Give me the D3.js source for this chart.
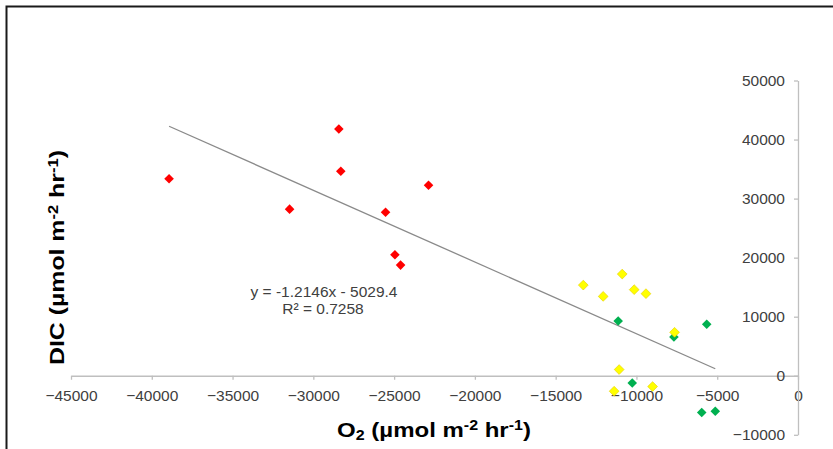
<!DOCTYPE html>
<html>
<head>
<meta charset="utf-8">
<script src="https://cdn.jsdelivr.net/npm/d3@7"></script>
<style>
  html, body { margin: 0; padding: 0; background: #fff; }
  svg { display: block; font-family: "Liberation Sans", Arial, sans-serif; }
</style>
</head>
<body>
<svg id="chart" width="833" height="449"></svg>
<script>
// ---- data ----
const redX    = [-38930, -28420, -28300, -31470, -22870, -25530, -24950, -24600];
const redY    = [ 33350,  41800,  34630,  28210,  32270,  27700,  20500,  18740];
const greenX  = [-11130, -7680, -5650, -10260, -5960, -5120];
const greenY  = [  9270,  6560,  8710,  -1220, -6220, -6000];
const yellowX = [-13290, -12060, -10880, -10140, -9410, -7640, -11070, -11380, -9000];
const yellowY = [ 15350,  13440,  17220,  14580, 13900,  7360,   1050,  -2620, -1830];
const xTicks  = [-45000, -40000, -35000, -30000, -25000, -20000, -15000, -10000, -5000, 0];
const yTicks  = [-10000, 0, 10000, 20000, 30000, 40000, 50000];
const slope = -1.2146, intercept = -5029.4;
const eqLabel = "y = -1.2146x - 5029.4";
const r2Label = "R² = 0.7258";

const svg = d3.select("#chart");

// frame
svg.append("rect").attr("x", 6.5).attr("y", 6.5).attr("width", 900).attr("height", 500)
  .attr("fill", "none").attr("stroke", "#1a1a1a").attr("stroke-width", 2);

const x = d3.scaleLinear().domain([-45000, 0]).range([71, 798]);
const y = d3.scaleLinear().domain([-10000, 50000]).range([434.8, 80.5]);

const axisColor = "#bfbfbf", textColor = "#404040";

// x axis at y=0
const gx = svg.append("g").attr("transform", `translate(0,${y(0)})`)
  .call(d3.axisBottom(x).tickValues(xTicks).tickSize(4).tickSizeOuter(0).tickPadding(10).tickFormat(d3.format("d")));
// y axis at x=0
const gy = svg.append("g").attr("transform", `translate(${x(0)},0)`)
  .call(d3.axisLeft(y).tickValues(yTicks).tickSize(4).tickSizeOuter(0).tickPadding(9).tickFormat(d3.format("d")));
[gx, gy].forEach(g => {
  g.select(".domain").attr("stroke", axisColor).attr("stroke-width", 1.3);
  g.selectAll(".tick line").attr("stroke", axisColor).attr("stroke-width", 1.3);
  g.selectAll(".tick text").attr("fill", textColor).attr("font-size", "15.5px")
    .attr("font-family", "'Liberation Sans', Arial, sans-serif");
});
gx.selectAll(".tick text").attr("text-anchor", "middle");

// trend line over the data x range
const allX = redX.concat(greenX, yellowX);
const [xmin, xmax] = d3.extent(allX);
const line = d3.line().x(d => x(d)).y(d => y(slope * d + intercept));
svg.append("path").datum([xmin, xmax]).attr("d", line)
  .attr("fill", "none").attr("stroke", "#8a8a8a").attr("stroke-width", 1.3);

// markers (rotated squares = Excel diamonds)
function drawSeries(xs, ys, fill, stroke, area) {
  const sym = d3.symbol().type(d3.symbolSquare).size(area);
  svg.append("g").selectAll("path").data(xs.map((v, i) => [v, ys[i]])).join("path")
    .attr("d", sym)
    .attr("transform", d => `translate(${x(d[0])},${y(d[1])}) rotate(45)`)
    .attr("fill", fill)
    .attr("stroke", stroke).attr("stroke-width", stroke === "none" ? 0 : 0.6);
}
drawSeries(redX, redY, "#ff0000", "none", 46);
drawSeries(greenX, greenY, "#00b050", "none", 46);
drawSeries(yellowX, yellowY, "#ffff00", "#e6cf00", 48);

// equation
const eq = svg.append("text").attr("x", 324).attr("y", 297).attr("text-anchor", "middle")
  .attr("font-size", "15.5px").attr("fill", textColor).text(eqLabel);
svg.append("text").attr("x", 323).attr("y", 314).attr("text-anchor", "middle")
  .attr("font-size", "15.5px").attr("fill", textColor).text(r2Label);

// helper to build titles with sub/superscripts
function title(g, parts) {
  const t = g.append("text").attr("font-size", "21px").attr("font-weight", "bold")
    .attr("fill", "#000").attr("text-anchor", "middle");
  parts.forEach(p => {
    const ts = t.append("tspan").text(p.t);
    if (p.sub) ts.attr("font-size", "14px").attr("baseline-shift", "-20%");
    if (p.sup) ts.attr("font-size", "14px").attr("baseline-shift", "45%");
  });
  return t;
}
function fitWidth(t, target) {
  const w = t.node().getComputedTextLength();
  return target / w;
}

// x title
const gxt = svg.append("g");
const xt = title(gxt, [{t:"O"},{t:"2",sub:true},{t:" (µmol m"},{t:"-2",sup:true},{t:" hr"},{t:"-1",sup:true},{t:")"}]);
const sx = fitWidth(xt, 194);
gxt.attr("transform", `translate(434,437) scale(${sx},1)`);

// y title
const gyt = svg.append("g");
const yt = title(gyt, [{t:"DIC (µmol m"},{t:"-2",sup:true},{t:" hr"},{t:"-1",sup:true},{t:")"}]);
const sy = fitWidth(yt, 215);
gyt.attr("transform", `translate(64,257.5) rotate(-90) scale(${sy},1)`);
</script>
</body>
</html>
